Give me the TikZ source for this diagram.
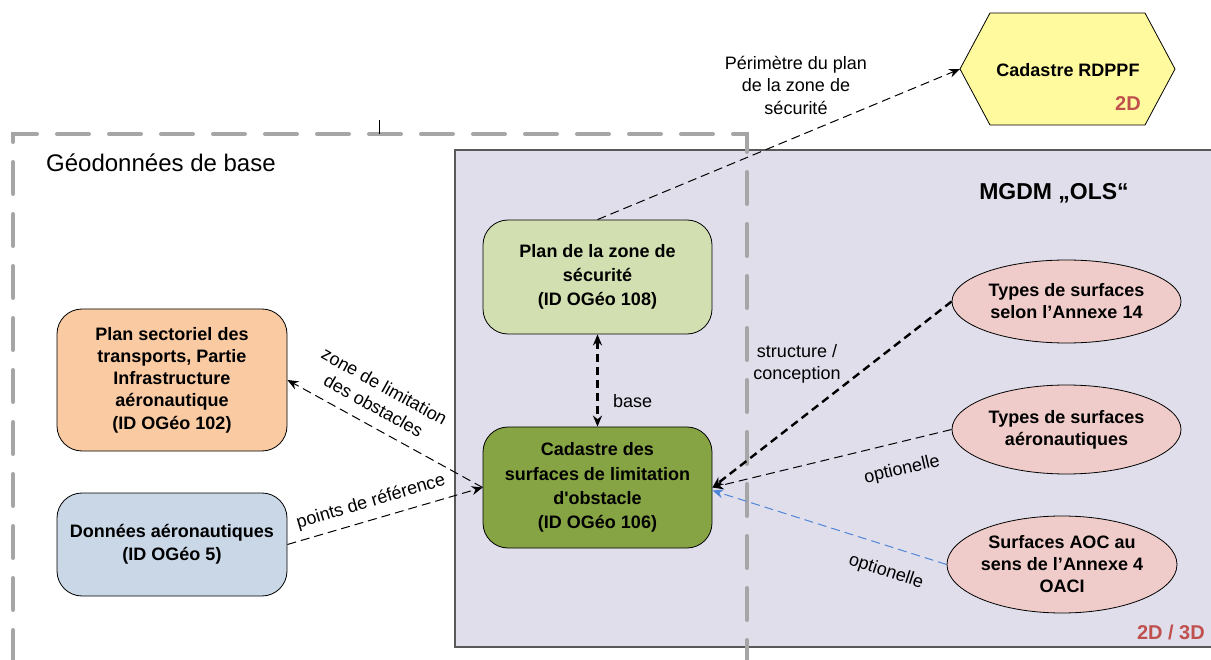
\documentclass[tikz,border=0pt]{standalone}
\usepackage{fontspec}
\setmainfont{Liberation Sans}[Ligatures=TeXOff]
\usetikzlibrary{shapes.geometric,arrows.meta,calc}
\definecolor{purp}{HTML}{E1DEEC}
\definecolor{purpline}{HTML}{595959}
\definecolor{dashgray}{HTML}{A6A6A6}
\definecolor{hexfill}{HTML}{FFFA9E}
\definecolor{sectfill}{HTML}{FACAA2}
\definecolor{donfill}{HTML}{C9D7E7}
\definecolor{planfill}{HTML}{D2E0B1}
\definecolor{cadfill}{HTML}{86A443}
\definecolor{ellfill}{HTML}{EFCCCA}
\definecolor{redtxt}{HTML}{C0504D}
\definecolor{bluearrow}{HTML}{4F86D6}
\begin{document}
\begin{tikzpicture}[x=1pt,y=-1pt,
  box/.style={draw=black, line width=0.8pt, rounded corners=25pt, minimum width=229pt,
    align=center, inner sep=0pt, font=\bfseries\fontsize{18}{24.3}\selectfont},
  ell/.style={ellipse, draw=black, line width=0.8pt, fill=ellfill, minimum width=229pt,
    inner sep=0pt, align=center, font=\bfseries\fontsize{18}{22}\selectfont},
  lbl/.style={font=\fontsize{18}{22.5}\selectfont, align=center, inner sep=1pt},
  thinconn/.style={line width=1pt, dash pattern=on 9pt off 5pt},
  thickconn/.style={line width=2.4pt, dash pattern=on 8pt off 5pt},
  tip/.style={-{Stealth[length=11pt,width=9pt]}},
]
\useasboundingbox (0,0) rectangle (1211,660);
% MGDM area
\draw[purpline, line width=1.2pt, fill=purp] (455,150) rectangle (1212,647);
% Geodonnees de base dashed frame
\draw[dashgray, line width=4pt, line cap=round, dash pattern=on 32pt off 20pt]
  (13,662) -- (13,134) -- (747,134) -- (747,662);
\draw[black, line width=0.8pt] (379,120) -- (379,134);
\node[anchor=west, font=\fontsize{24}{27}\selectfont, inner sep=0pt] (geo) at (46,163) {Géodonnées de base};
\node[font=\bfseries\fontsize{23}{26}\selectfont, inner sep=0pt] (mgdm) at (1054,193) {MGDM „OLS“};
\node[font=\bfseries\fontsize{20}{23}\selectfont, text=redtxt, anchor=east, inner sep=0pt] (dim) at (1205,632) {2D / 3D};
% Hexagon
\draw[black, line width=0.8pt, fill=hexfill] (960,69) -- (990,13) -- (1145,13) -- (1175,69) -- (1145,125) -- (990,125) -- cycle;
\coordinate (hexw) at (960,69);
\node[font=\bfseries\fontsize{18}{22}\selectfont, inner sep=0pt] (rdppf) at (1068,70) {Cadastre RDPPF};
\node[font=\bfseries\fontsize{20}{23}\selectfont, text=redtxt, inner sep=0pt] (twod) at (1128,104) {2D};
% Nodes
\node[box, fill=planfill, minimum height=114pt] (plan) at (597.5,277) {Plan de la zone de\\sécurité\\(ID OGéo 108)};
\node[box, fill=cadfill, minimum height=121pt] (cad) at (597.5,487.5) {Cadastre des\\surfaces de limitation\\d'obstacle\\(ID OGéo 106)};
\node[box, fill=sectfill, minimum height=142pt, minimum width=230pt, font=\bfseries\fontsize{18}{22.3}\selectfont] (sect) at (172,380) {Plan sectoriel des\\transports, Partie\\Infrastructure\\aéronautique\\(ID OGéo 102)};
\node[box, fill=donfill, minimum height=103pt, minimum width=230pt, font=\bfseries\fontsize{18}{22.5}\selectfont] (don) at (172,544.5) {Données aéronautiques\\(ID OGéo 5)};
\node[ell, minimum height=83pt] (e1) at (1066.5,301.5) {Types de surfaces\\selon l’Annexe 14};
\node[ell, minimum height=89pt] (e2) at (1066.5,429.5) {Types de surfaces\\aéronautiques};
\node[ell, minimum height=97pt, minimum width=230pt] (e3) at (1062,564.5) {Surfaces AOC au\\sens de l’Annexe 4\\OACI};
% Connectors
\draw[thinconn, tip] (plan.north) -- (hexw);
\node[lbl] (lperim) at (796,85) {Périmètre du plan\\de la zone de\\sécurité};
\draw[thickconn, {Stealth[length=11pt,width=9pt]}-{Stealth[length=11pt,width=9pt]}] (plan.south) -- (cad.north);
\node[lbl, anchor=west] (lbase) at (612,401) {base};
\draw[thinconn, tip] (cad.west) -- (sect.east);
\node[lbl, rotate=-29] (lzone) at (379,396) {zone de limitation\\des obstacles};
\draw[thinconn, tip] (don.east) -- (cad.west);
\node[lbl, rotate=16.5] (lpts) at (371,502) {points de référence};
\draw[thickconn, tip] (e1.west) -- (cad.east);
\node[lbl] (lstruct) at (797,364) {structure /\\conception};
\draw[thinconn, tip] (e2.west) -- (cad.east);
\node[lbl, rotate=13.1] (lopt1) at (902,470) {optionelle};
\draw[thinconn, bluearrow, tip] (e3.west) -- ($(cad.east)+(0,3)$);
\node[lbl, rotate=-18] (lopt2) at (886,572) {optionelle};
\end{tikzpicture}
\end{document}
